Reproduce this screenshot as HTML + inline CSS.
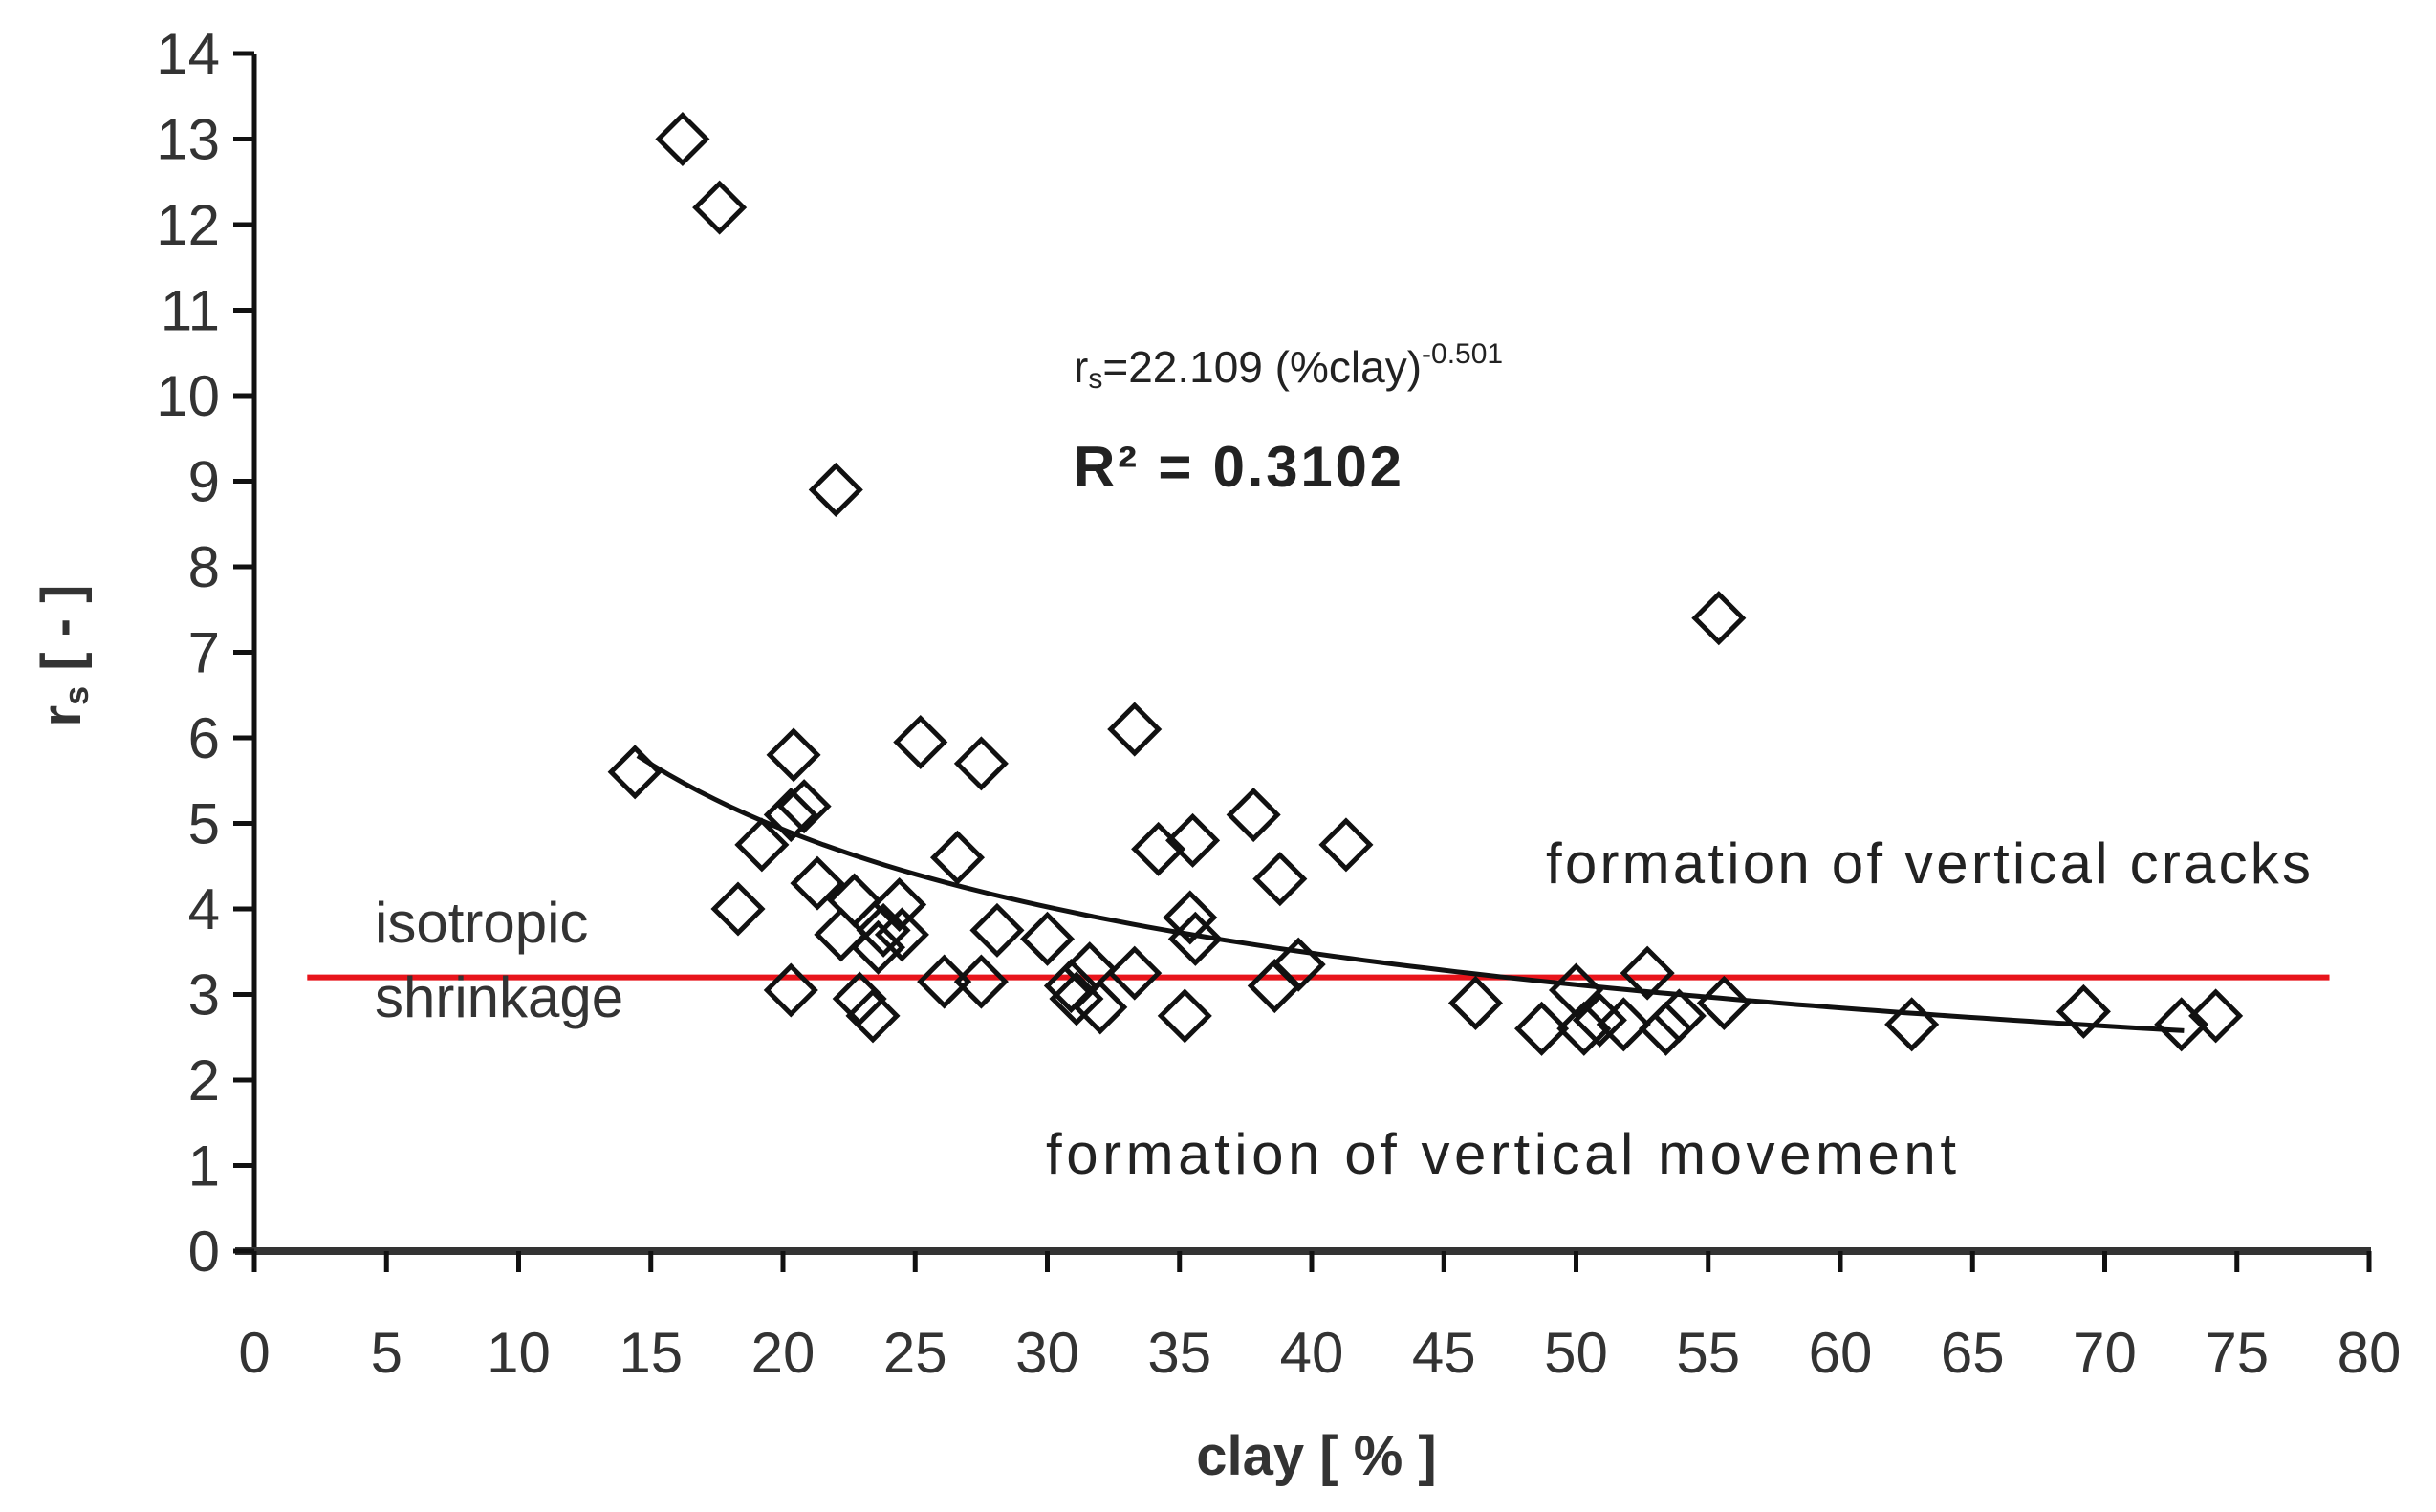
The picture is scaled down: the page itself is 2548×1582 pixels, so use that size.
<!DOCTYPE html>
<html><head><meta charset="utf-8"><style>
html,body{margin:0;padding:0;background:#fff;}
svg{display:block;font-family:"Liberation Sans",sans-serif;}
</style></head><body>
<svg id="chart" width="2548" height="1582" viewBox="0 0 2548 1582" xmlns="http://www.w3.org/2000/svg">
<g id="marks"></g>
<g id="axes"></g>
<g id="labels">
<text x="392" y="986" font-size="60" fill="#333">isotropic</text>
<text x="392" y="1064" font-size="60" fill="#333">shrinkage</text>
<text x="1617" y="924" font-size="60" fill="#222" textLength="800">formation of vertical cracks</text>
<text x="1094" y="1228" font-size="60" fill="#222" textLength="952">formation of vertical movement</text>
<text x="1123" y="400" font-size="46" fill="#222">r<tspan font-size="30" dy="6">s</tspan><tspan dy="-6">=22.109 (%clay)</tspan><tspan font-size="30" dy="-20">-0.501</tspan></text>
<text x="1123" y="509" font-size="60" font-weight="bold" fill="#222" textLength="343">R² = 0.3102</text>
<text x="1377" y="1543" font-size="58" font-weight="bold" fill="#333" text-anchor="middle">clay [ % ]</text>
<text transform="translate(84,686) rotate(-90)" font-size="58" font-weight="bold" fill="#333" text-anchor="middle">r<tspan font-size="36" dy="8">s</tspan><tspan dy="-8"> [ - ]</tspan></text>
</g>
</svg>
<script>
const clay = [16.2,17.6,22.0,55.4,14.4,20.4,25.2,27.5,33.3,37.8,41.3,35.5,34.2,38.8,26.6,20.8,20.3,19.2,18.3,21.3,22.7,24.4,22.2,23.8,24.5,23.6,28.1,30.0,35.4,35.6,39.5,31.6,33.3,26.1,27.5,20.3,22.9,23.4,30.9,31.1,32.0,35.2,38.6,46.2,48.7,50.0,50.3,50.9,51.8,52.7,53.4,53.9,55.6,62.7,69.2,72.9,74.2];
const rs = [13.0,12.2,8.9,7.4,5.6,5.8,5.95,5.7,6.1,5.1,4.75,4.8,4.7,4.35,4.6,5.2,5.1,4.75,4.0,4.3,4.1,4.05,3.7,3.75,3.7,3.55,3.75,3.65,3.9,3.65,3.35,3.3,3.25,3.15,3.15,3.05,2.95,2.75,3.1,2.95,2.85,2.75,3.1,2.9,2.6,3.05,2.6,2.7,2.65,3.25,2.6,2.75,2.9,2.65,2.8,2.65,2.75];
const xTicks = [0,5,10,15,20,25,30,35,40,45,50,55,60,65,70,75,80];
const yTicks = [0,1,2,3,4,5,6,7,8,9,10,11,12,13,14];
const fitCoef = 22.109, fitExp = -0.501;
const fitRange = [14.5, 73];
const isoLevel = 3.2;
const isoRange = [2, 78.5];

const NS = "http://www.w3.org/2000/svg";
const X0=266, X1=2478, Y0=1309, Y1=56;
const sx = v => X0 + (v-0)/(80-0)*(X1-X0);
const sy = v => Y0 - (v-0)/(14-0)*(Y0-Y1);
function mk(tag, attrs, parent){const e=document.createElementNS(NS,tag);for(const k in attrs)e.setAttribute(k,attrs[k]);parent.appendChild(e);return e;}
const axes=document.getElementById('axes'), marks=document.getElementById('marks');

let a=mk('line',{x1:X0,y1:Y1,x2:X0,y2:Y0+20,stroke:'#111','stroke-width':5},axes);


a=mk('line',{x1:X0-20,y1:Y0,x2:X1+2,y2:Y0,stroke:'#333','stroke-width':8},axes);


xTicks.forEach(t=>{
  const tk=mk('line',{x1:sx(t),y1:Y0,x2:sx(t),y2:Y0+22,stroke:'#111','stroke-width':5},axes);
  
  
  const tl=mk('text',{x:sx(t),y:1436,'font-size':60,'text-anchor':'middle',fill:'#333'},axes);
  tl.textContent=t;
  
  
});
yTicks.forEach(t=>{
  const tk=mk('line',{x1:X0-22,y1:sy(t),x2:X0,y2:sy(t),stroke:'#111','stroke-width':5},axes);
  
  
  const tl=mk('text',{x:230,y:sy(t)+21,'font-size':60,'text-anchor':'end',fill:'#333'},axes);
  tl.textContent=t;
  
  
});
const iso=mk('line',{x1:sx(isoRange[0]),y1:sy(isoLevel),x2:sx(isoRange[1]),y2:sy(isoLevel),stroke:'#e8141b','stroke-width':6},marks);


let d='';
for(let i=0;i<=100;i++){const v=fitRange[0]+(fitRange[1]-fitRange[0])*i/100;const y=fitCoef*Math.pow(v,fitExp);d+=(i?'L':'M')+sx(v).toFixed(1)+','+sy(y).toFixed(1);}
const fit=mk('path',{d:d,fill:'none',stroke:'#111','stroke-width':5},marks);


const R=25;
clay.forEach((c,i)=>{
  const x=sx(c), y=sy(rs[i]);
  const p=mk('polygon',{points:`${x},${y-R} ${x+R},${y} ${x},${y+R} ${x-R},${y}`,fill:'none',stroke:'#111','stroke-width':5},marks);
  
  
});
</script>
</body></html>
